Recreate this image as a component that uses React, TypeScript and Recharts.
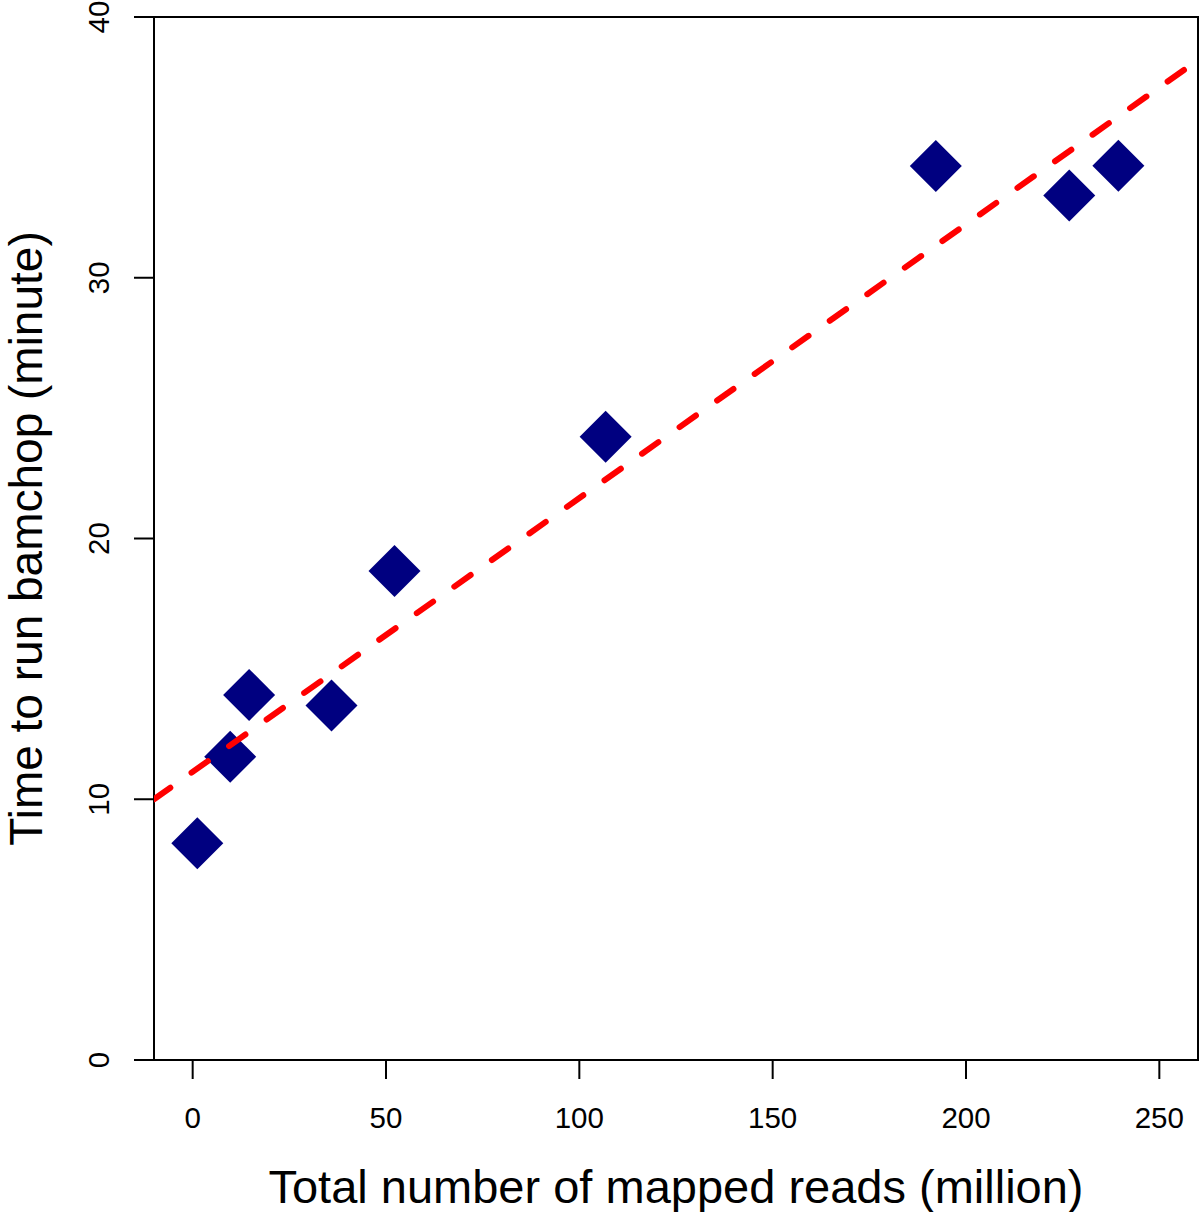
import { ScatterChart, Scatter, XAxis, YAxis, ReferenceArea, Label } from 'recharts';

// values
const readsMillion = [1.2, 9.7, 14.6, 35.9, 52.2, 106.8, 192.2, 226.7, 239.4];
const runMinutes = [8.31, 11.63, 14.0, 13.6, 18.75, 23.9, 34.29, 33.15, 34.3];

// dashed fit line endpoints (at the plot edges)
const fitX = [-10, 260];
const fitY = [10.0, 38.35];

const xTicks = [0, 50, 100, 150, 200, 250];
const yTicks = [0, 10, 20, 30, 40];

const FONT = '"Liberation Sans", Arial, Helvetica, sans-serif';

const points = readsMillion.map((x, i) => ({ x, y: runMinutes[i] }));
const fitLine = fitX.map((x, i) => ({ x, y: fitY[i] }));

const Diamond = (props: any) => {
  const { cx, cy } = props;
  const r = 26;
  return (
    <path
      d={`M${cx},${cy - r} L${cx + r},${cy} L${cx},${cy + r} L${cx - r},${cy} Z`}
      fill="#000080"
    />
  );
};

const XTick = ({ x, y, payload }: any) => (
  <text x={x} y={y + 49} textAnchor="middle" fontSize={29.5} fontFamily={FONT} fill="#000">
    {payload.value}
  </text>
);

const YTick = ({ x, y, payload }: any) => (
  <text
    transform={`translate(${x - 25}, ${y}) rotate(-90)`}
    textAnchor="middle"
    fontSize={29.5}
    fontFamily={FONT}
    fill="#000"
  >
    {payload.value}
  </text>
);

export default function App() {
  return (
    <div style={{ position: 'absolute', left: 0, top: 0, background: '#fff' }}>
      <ScatterChart width={1200} height={1212} margin={{ top: 17, right: 2, bottom: 0, left: 0 }}>
        <XAxis
          type="number"
          dataKey="x"
          domain={[-10, 260]}
          ticks={xTicks}
          height={152}
          tickSize={19}
          tickMargin={0}
          axisLine={false}
          tickLine={{ stroke: '#000', strokeWidth: 2 }}
          tick={<XTick />}
          allowDataOverflow
        >
          <Label
            content={({ viewBox }: any) => (
              <text
                x={viewBox.x + viewBox.width / 2}
                y={viewBox.y + 143}
                textAnchor="middle"
                fontSize={47}
                fontFamily={FONT}
                fill="#000"
              >
                Total number of mapped reads (million)
              </text>
            )}
          />
        </XAxis>
        <YAxis
          type="number"
          dataKey="y"
          domain={[0, 40]}
          ticks={yTicks}
          width={154}
          tickSize={20}
          tickMargin={0}
          axisLine={false}
          tickLine={{ stroke: '#000', strokeWidth: 2 }}
          tick={<YTick />}
          allowDataOverflow
        >
          <Label
            content={({ viewBox }: any) => (
              <text
                transform={`translate(42, ${viewBox.y + viewBox.height / 2}) rotate(-90)`}
                textAnchor="middle"
                fontSize={46}
                fontFamily={FONT}
                fill="#000"
              >
                Time to run bamchop (minute)
              </text>
            )}
          />
        </YAxis>
        <ReferenceArea x1={-10} x2={260} y1={0} y2={40} fill="none" stroke="#000" strokeWidth={2} />
        <Scatter data={points} shape={<Diamond />} isAnimationActive={false} />
        <Scatter
          data={fitLine}
          shape={() => null}
          line={{ stroke: '#ff0000', strokeWidth: 6, strokeDasharray: '20 26', strokeLinecap: 'round' }}
          isAnimationActive={false}
        />
      </ScatterChart>
    </div>
  );
}
